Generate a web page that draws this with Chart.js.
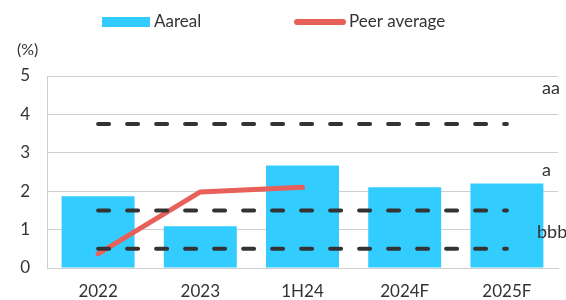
<!DOCTYPE html>
<html>
<head>
<meta charset="utf-8">
<script src="https://cdn.jsdelivr.net/npm/chart.js@4.4.1/dist/chart.umd.min.js"></script>
<style>
    html, body { margin: 0; padding: 0; background: #fff; }
    #wrap { width: 566px; height: 300px; position: relative; }
</style>
</head>
<body>
<div id="wrap"><canvas id="mycanvas"></canvas></div>
<script>
var categories = ["2022", "2023", "1H24", "2024F", "2025F"];
var aareal = [1.87, 1.09, 2.67, 2.1, 2.2];
var peerAverage = [0.37, 1.98, 2.1, null, null];
var ratingAA = [3.75, 3.75, 3.75, 3.75, 3.75];
var ratingA = [1.5, 1.5, 1.5, 1.5, 1.5];
var ratingBBB = [0.5, 0.5, 0.5, 0.5, 0.5];
var ratingNames = ["aa", "a", "bbb"];
var ratingNameValues = [4.68, 2.55, 0.94];
var yMin = 0, yMax = 5, yStep = 1;

var textColor = "#333";
var fontFamily = "Lato, 'Open Sans', sans-serif";

function dashed(label, values) {
    return {
        type: "line",
        label: label,
        data: values,
        borderColor: "#333",
        borderWidth: 4,
        borderDash: [11, 18],
        borderCapStyle: "round",
        pointRadius: 0,
        fill: false,
        tension: 0,
        order: 0
    };
}

// legend, "(%)" unit and the rating names on the right
var extras = {
    id: "extras",
    afterDraw: function (chart) {
        var c = chart.ctx;
        var ds = chart.data.datasets;
        c.save();
        c.font = "17px " + fontFamily;
        c.fillStyle = textColor;
        c.textBaseline = "middle";
        c.textAlign = "left";

        // legend
        c.fillStyle = ds[0].backgroundColor;
        c.fillRect(102, 17, 48, 10);
        c.fillStyle = textColor;
        c.fillText(ds[0].label, 154, 22);

        c.strokeStyle = ds[1].borderColor;
        c.lineWidth = 6;
        c.lineCap = "round";
        c.beginPath();
        c.moveTo(297, 22);
        c.lineTo(343, 22);
        c.stroke();
        c.fillText(ds[1].label, 349, 22);

        // unit
        c.font = "16px " + fontFamily;
        c.fillText("(%)", 17, 50);

        // ratings
        c.font = "18px " + fontFamily;
        var y = chart.scales.y;
        var xs = [542, 542, 537];
        for (var i = 0; i < ratingNames.length; i++) {
            c.fillText(ratingNames[i], xs[i], y.getPixelForValue(ratingNameValues[i]));
        }
        c.restore();
    }
};

var ctx = document.getElementById("mycanvas");

var data = {
    labels: categories,
    datasets: [
        {
            type: "bar",
            label: "Aareal",
            data: aareal,
            backgroundColor: "#33CCFF",
            borderWidth: 0,
            categoryPercentage: 1,
            barPercentage: 0.714,
            order: 2
        },
        {
            type: "line",
            label: "Peer average",
            data: peerAverage,
            borderColor: "#E8605A",
            backgroundColor: "#E8605A",
            borderWidth: 5,
            borderCapStyle: "round",
            borderJoinStyle: "round",
            pointRadius: 0,
            fill: false,
            tension: 0,
            order: 1
        },
        dashed("aa", ratingAA),
        dashed("a", ratingA),
        dashed("bbb", ratingBBB)
    ]
};

var options = {
    responsive: true,
    maintainAspectRatio: false,
    animation: false,
    layout: { padding: { top: 76, right: 8, left: 0, bottom: 0 } },
    plugins: {
        legend: { display: false },
        tooltip: { enabled: false },
        title: { display: false }
    },
    scales: {
        x: {
            grid: { display: false, drawTicks: false },
            border: { display: true, color: "#cfcfcf", width: 1 },
            ticks: {
                color: textColor,
                font: { family: fontFamily, size: 17 },
                padding: 13,
                maxRotation: 0
            },
            afterFit: function (scale) { scale.height = 32; }
        },
        y: {
            min: yMin,
            max: yMax,
            grid: { color: "#cfcfcf", lineWidth: 1, drawTicks: false },
            border: { display: true, color: "#cfcfcf", width: 1 },
            ticks: {
                stepSize: yStep,
                color: textColor,
                font: { family: fontFamily, size: 17 },
                padding: 17
            },
            afterFit: function (scale) { scale.width = 47; }
        }
    }
};

var chart = new Chart(ctx, {
    type: "bar",
    data: data,
    options: options,
    plugins: [extras]
});
</script>
</body>
</html>
